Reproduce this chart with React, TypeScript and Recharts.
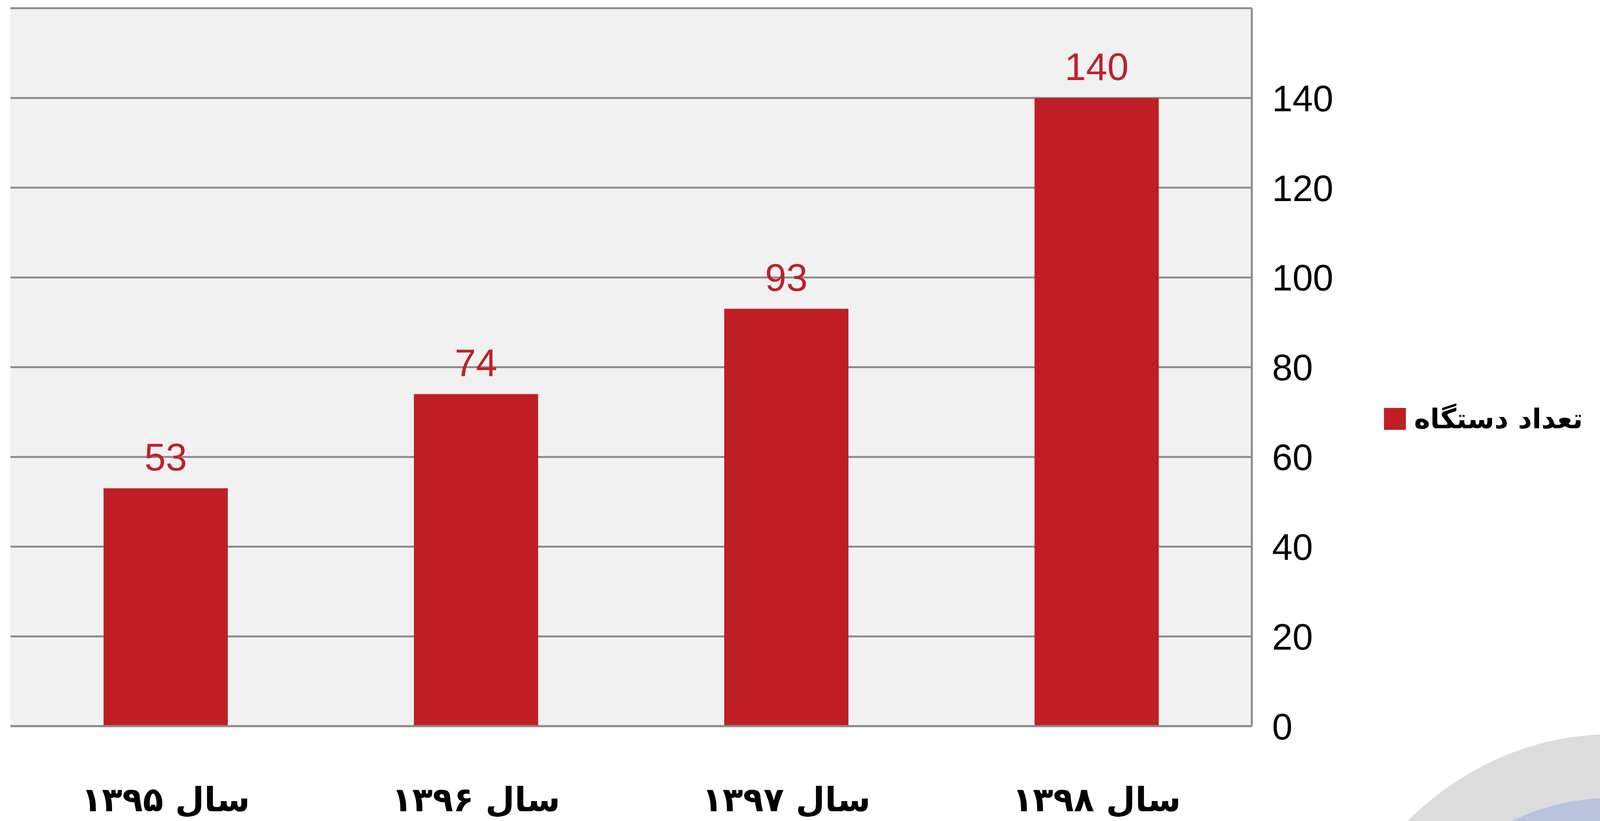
import React from "react";
import { Bar, BarChart, CartesianGrid, LabelList, XAxis, YAxis } from "recharts";

const years = ["سال ۱۳۹۵", "سال ۱۳۹۶", "سال ۱۳۹۷", "سال ۱۳۹۸"];
const deviceCounts = [53, 74, 93, 140];
const yTicks = [0, 20, 40, 60, 80, 100, 120, 140, 160];
const seriesName = "تعداد دستگاه";

const chartData = years.map((year, i) => ({ year, count: deviceCounts[i] }));

const RED = "#bf1e25";
const GRID = "#8c8c8c";
const PERSIAN_FONT = "'DejaVu Sans', sans-serif";
const LATIN_FONT = "'Liberation Sans', Arial, sans-serif";

// reference is 4581 wide; the real viewport may be narrower, so x positions scale with it
const REF_W = 4581;
const H = 2103;
const W = typeof window !== "undefined" ? Math.min(REF_W, window.innerWidth || REF_W) : REF_W;
const sx = W / REF_W;

function YTick({ x, y, payload }: any) {
  if (payload.value === 160) return <g />;
  return (
    <text x={x} y={y} dy="0.36em" textAnchor="start" fontSize={94} fill="#000" fontFamily={LATIN_FONT}>
      {payload.value}
    </text>
  );
}

function XTick({ x, y, payload }: any) {
  return (
    <text
      x={x}
      y={y}
      textAnchor="middle"
      direction="rtl"
      fontSize={86}
      fontWeight="bold"
      fill="#000"
      fontFamily={PERSIAN_FONT}
    >
      {payload.value}
    </text>
  );
}

export default function App() {
  const plotLeft = 30 * sx;
  const plotRight = 3584 * sx;
  const yAxisW = 320 * sx;
  return (
    <div
      style={{
        position: "absolute",
        left: 0,
        top: 0,
        width: W,
        height: H,
        overflow: "hidden",
        background: "#fff",
      }}
    >
      {/* corner decoration */}
      <div
        style={{
          position: "absolute",
          left: (4613 - 878) * sx,
          top: 2759 - 878,
          width: 878 * 2 * sx,
          height: 878 * 2,
          borderRadius: "50%",
          background: "#dcdcdc",
        }}
      />
      <div
        style={{
          position: "absolute",
          left: (4613 - 715) * sx,
          top: 2759 - 715,
          width: 715 * 2 * sx,
          height: 715 * 2,
          borderRadius: "50%",
          background: "#b9c3db",
        }}
      />

      <div style={{ position: "absolute", left: 0, top: 0 }}>
        <BarChart
          width={W}
          height={H}
          data={chartData}
          margin={{ top: 21, right: W - plotRight - yAxisW, left: plotLeft, bottom: 43 }}
          barCategoryGap="30%"
        >
          <CartesianGrid vertical={false} stroke={GRID} strokeWidth={5} fill="#f1f1f1" strokeOpacity={1} />
          <XAxis
            dataKey="year"
            height={200}
            axisLine={{ stroke: GRID, strokeWidth: 5 }}
            tickLine={false}
            tickSize={0}
            tickMargin={218}
            tick={<XTick />}
            interval={0}
          />
          <YAxis
            orientation="right"
            width={yAxisW}
            domain={[0, 160]}
            ticks={yTicks}
            axisLine={{ stroke: GRID, strokeWidth: 5 }}
            tickLine={false}
            tickSize={0}
            tickMargin={58 * sx}
            tick={<YTick />}
            interval={0}
          />
          <Bar dataKey="count" name={seriesName} fill={RED} isAnimationActive={false}>
            <LabelList
              dataKey="count"
              position="top"
              offset={46}
              fill="#c0202a"
              fontSize={98}
              fontFamily={LATIN_FONT}
            />
          </Bar>
        </BarChart>
      </div>

      {/* legend */}
      <div
        style={{
          position: "absolute",
          left: 3962 * sx,
          top: 1008,
          height: 130,
          display: "flex",
          alignItems: "center",
          gap: 24 * sx,
        }}
      >
        <div style={{ width: 56, height: 56, background: RED }} />
        <span
          dir="rtl"
          style={{ fontFamily: PERSIAN_FONT, fontWeight: "bold", fontSize: 70, color: "#000", whiteSpace: "nowrap" }}
        >
          {seriesName}
        </span>
      </div>
    </div>
  );
}
